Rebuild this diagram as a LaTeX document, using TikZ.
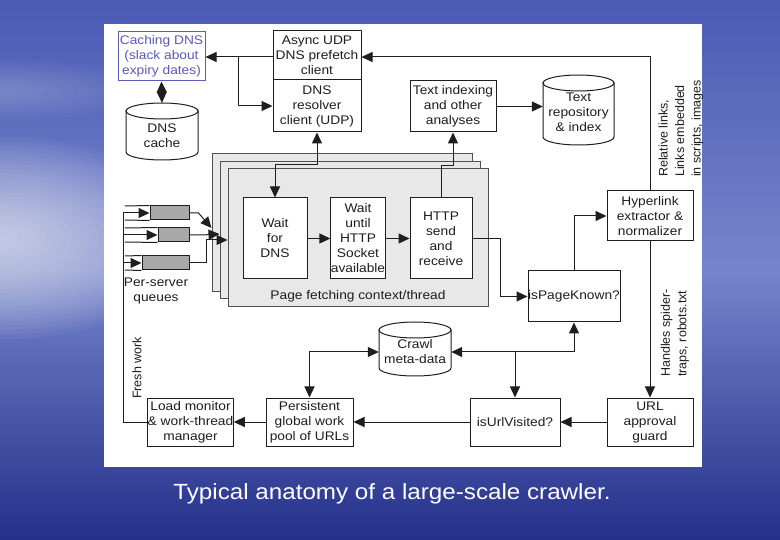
\documentclass[tikz,border=0pt]{standalone}
\usepackage{fontspec}
\setmainfont{Liberation Sans}[FakeStretch=1.1]
\newfontfamily\rotfont{Liberation Sans}
\usetikzlibrary{arrows.meta}
\definecolor{ink}{HTML}{1E1E1E}
\definecolor{dnsblue}{HTML}{5A5AB8}
\definecolor{stackfill}{HTML}{E8E8E8}
\definecolor{stackline}{HTML}{505050}
\definecolor{qgray}{HTML}{A8A8A8}
\definecolor{bgtop}{HTML}{4B5BB4}
\definecolor{bgmid}{HTML}{7585CC}
\definecolor{bgbot}{HTML}{24308A}
\newcommand\fs{\fontsize{12.5}{15}\selectfont}
\newcommand\rfs{\rotfont\fontsize{12.5}{16.5}\selectfont}
\newcommand\cylshape[5]{% x1,y1,x2,y2,ry
  \path[fill=white, draw=ink, line width=1pt]
    (#1,#2+#5) -- (#1,#4-#5)
    arc[start angle=180, end angle=0, x radius={(#3-#1)/2}, y radius=#5]
    -- (#3,#2+#5) -- cycle;
  \draw[ink, line width=1pt, fill=white] ({(#1+#3)/2},#2+#5) ellipse[x radius={(#3-#1)/2}, y radius=#5];
}
\begin{document}
\begin{tikzpicture}[x=1pt,y=-1pt,
  box/.style={draw=ink, fill=white, line width=1pt, inner sep=0pt, align=center, font=\fs, text=ink},
  lbl/.style={inner sep=0pt, align=center, font=\fs, text=ink},
  rlbl/.style={inner sep=0pt, font=\rfs, text=ink, rotate=90},
  conn/.style={line width=1pt, draw=ink},
  arr/.style={conn, -{Triangle[length=11pt,width=10pt]}},
  darr/.style={conn, {Triangle[length=11pt,width=10pt]}-{Triangle[length=11pt,width=10pt]}},
  stackbox/.style={draw=stackline, fill=stackfill, line width=1pt},
  qbox/.style={draw=ink, fill=qgray, line width=1pt, inner sep=0pt},
]
\useasboundingbox (0,0) rectangle (780,540);
% background
\shade[top color=bgtop, bottom color=bgbot, middle color=bgmid] (0,0) rectangle (780,540);
\foreach \i in {1,...,22} {
  \fill[white, opacity=0.045] (0,238) ellipse[x radius={9*\i}, y radius={4.6*\i}];
}
\foreach \i in {1,...,10} {
  \fill[white, opacity=0.025] (0,90) ellipse[x radius={15*\i}, y radius={3*\i}];
}
% panel
\fill[white] (104,24) rectangle (702,467);

% page fetching stack
\node[stackbox, minimum width=260pt, minimum height=138pt, inner sep=0pt] (st1) at (342,223) {};
\node[stackbox, minimum width=260pt, minimum height=137pt, inner sep=0pt] (st2) at (350,230.5) {};
\node[stackbox, minimum width=260pt, minimum height=138pt, inner sep=0pt] (st3) at (358,238) {};
\node[lbl] (pagelbl) at (358,296) {Page fetching context/thread};

% boxes
\node[box, draw=dnsblue, text=dnsblue, minimum width=87pt, minimum height=49pt] (cdns) at (161.5,56.5) {Caching DNS\\(slack about\\expiry dates)};
\node[box, minimum width=88pt, minimum height=49pt] (async) at (317,55.5) {Async UDP\\DNS prefetch\\client};
\node[box, minimum width=88pt, minimum height=52pt] (resolver) at (317,106) {DNS\\resolver\\client (UDP)};
\node[box, minimum width=86pt, minimum height=51pt] (textidx) at (453,106.5) {Text indexing\\and other\\analyses};
\node[box, minimum width=64pt, minimum height=81pt] (waitdns) at (275,238.5) {Wait\\for\\DNS};
\node[box, minimum width=54pt, minimum height=81pt] (waituntil) at (358,238.5) {Wait\\until\\HTTP\\Socket\\available};
\node[box, minimum width=62pt, minimum height=81pt] (http) at (441,238.5) {HTTP\\send\\and\\receive};
\node[box, minimum width=92pt, minimum height=51pt] (ispk) at (574,296.5) {isPageKnown?};
\node[box, minimum width=86pt, minimum height=50pt] (hyper) at (650,216) {Hyperlink\\extractor \&\\normalizer};
\node[box, minimum width=85pt, minimum height=48pt] (loadmon) at (190.5,422) {Load monitor\\\& work-thread\\manager};
\node[box, minimum width=87pt, minimum height=48pt] (persist) at (309.5,422) {Persistent\\global work\\pool of URLs};
\node[box, minimum width=90pt, minimum height=48pt] (isurl) at (515,422) {isUrlVisited?};
\node[box, minimum width=86pt, minimum height=48pt] (urlapp) at (650,422) {URL\\approval\\guard};

% cylinders
\cylshape{126}{103}{198}{160}{8}
\node[lbl, minimum width=72pt, minimum height=66pt] (dnscache) at (162,136) {DNS\\cache};
\cylshape{543}{75}{614}{145}{8}
\node[lbl, minimum width=71pt] (textrepo) at (578.5,112) {Text\\repository\\\& index};
\cylshape{379}{322}{451}{376}{8}
\node[lbl, minimum width=72pt] (crawl) at (415,352) {Crawl\\meta-data};

% queues
\node[qbox, minimum width=39pt, minimum height=14pt] (q1) at (169.5,213) {};
\node[qbox, minimum width=31pt, minimum height=14pt] (q2) at (173.5,235) {};
\node[qbox, minimum width=47pt, minimum height=14pt] (q3) at (165.5,263) {};
\draw[conn] (125,206) -- (q1.north west); \draw[conn] (125,220) -- (q1.south west);
\draw[conn] (125,228) -- (q2.north west); \draw[conn] (125,242) -- (q2.south west);
\draw[conn] (125,256) -- (q3.north west); \draw[conn] (125,270) -- (q3.south west);
\node[lbl] (psq) at (156,291) {Per-server\\queues};

% fresh work
\coordinate (fwtop) at (123,213);
\draw[conn] (loadmon.west) -| (fwtop);
\draw[arr] (fwtop) -- (q1.west);
\draw[arr] (fwtop |- q2.west) -- (q2.west);
\draw[arr] (fwtop |- q3.west) -- (q3.west);
\node[rlbl] (fresh) at (137,368) {Fresh work};

% queue outputs
\draw[arr] (q1.east) -- ++(9,0) -- ([yshift=-5pt]st1.west);
\draw[arr] (q2.east) -- ++(13,0) -- ([yshift=-3.5pt]st2.west);
\draw[arr] (q3.east) -- ++(17,0) |- ([yshift=-2pt]st3.west);

% DNS connections
\coordinate (relcorner) at (650,57);
\draw[arr] (hyper.north) -- (relcorner) -- (relcorner -| async.east);
\coordinate (cj) at (238,57);
\draw[arr] (async.west |- cj) -- (cj -| cdns.east);
\draw[arr] (cj) |- (resolver.west);
\draw[darr] (cdns.south) -- (dnscache.north);
\coordinate (rdA) at (317,165);
\draw[darr] (resolver.south) -- (rdA) -| (waitdns.north);

% fetch pipeline
\draw[arr] (waitdns.east) -- (waituntil.west);
\draw[arr] (waituntil.east) -- (http.west);
\coordinate (hA) at (441,166);
\draw[arr] (http.north) -- (hA) -| (textidx.south);
\draw[arr] (textidx.east) -- (textidx.east -| textrepo.west);
\coordinate (hB) at (500,238.5);
\draw[arr] (http.east) -- (hB) |- (ispk.west);
\draw[arr] (ispk.north) |- (hyper.west);

% crawl meta-data bus
\coordinate (busR) at (515,352);
\draw[conn, {Triangle[length=11pt,width=10pt]}-] (crawl.east) -- (busR);
\draw[arr] (busR) -| (ispk.south);
\draw[arr] (busR) -- (busR |- isurl.north);
\draw[darr] (crawl.west) -| (persist.north);

% bottom row
\draw[arr] (hyper.south) -- (urlapp.north);
\draw[arr] (urlapp.west) -- (isurl.east);
\draw[arr] (isurl.west) -- (persist.east);
\draw[arr] (persist.west) -- (loadmon.east);

% rotated annotations
\node[rlbl, anchor=west, align=left] (rel) at (681,177) {Relative links,\\Links embedded\\in scripts, images};
\node[rlbl, anchor=west, align=left] (spider) at (675,377) {Handles spider-\\traps, robots.txt};

% caption
\node[inner sep=0pt, text=white, font=\fontsize{22}{26}\selectfont] (caption) at (392,494) {Typical anatomy of a large-scale crawler.};
\end{tikzpicture}
\end{document}
